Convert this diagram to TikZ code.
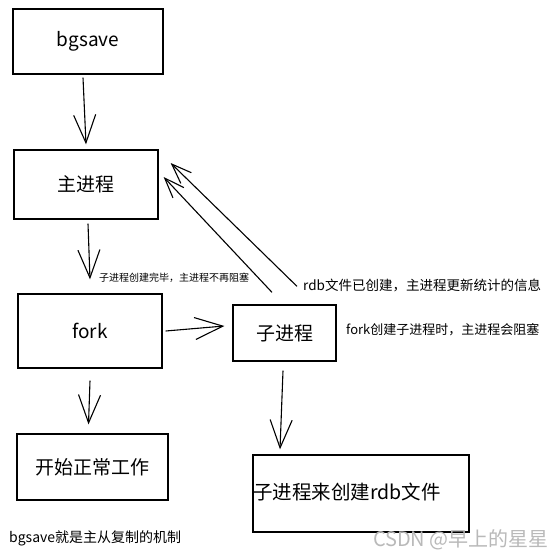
\documentclass[tikz,border=0pt]{standalone}
\usepackage{fontspec}
\setmainfont{Noto Sans CJK SC}
\usetikzlibrary{arrows.meta}
\begin{document}
\begin{tikzpicture}[x=1pt,y=-1pt,
  box/.style={draw=black, line width=1.3pt, inner sep=0pt, font=\fontsize{19}{22}\selectfont},
  arr/.style={draw=black, line width=1.1pt, -{Straight Barb[length=28pt,width=22pt,line width=1.1pt]}},
  arrs/.style={draw=black, line width=1.1pt, -{Straight Barb[length=20pt,width=15pt,line width=1.1pt]}},
  lbl/.style={inner sep=0pt, anchor=west}]
\useasboundingbox (0,0) rectangle (558,559);
\fill[white] (0,0) rectangle (558,559);
% boxes
\node[box, minimum width=150pt, minimum height=65pt] (bg) at (88,41.5) {bgsave};
\node[box, minimum width=144pt, minimum height=69pt] (main) at (86,184.5) {主进程};
\node[box, minimum width=144pt, minimum height=74pt] (fork) at (90,331) {fork};
\node[box, minimum width=103pt, minimum height=56pt] (kid) at (284.5,333) {子进程};
\node[box, minimum width=151pt, minimum height=66pt] (start) at (92.5,467) {开始正常工作};
\node[box, minimum width=216pt, minimum height=77pt] (rdb) at (361,493.5) {};
\node[lbl, font=\fontsize{19.5}{22}\selectfont] (rdbt) at (253,492) {子进程来创建rdb文件};
% arrows
\draw[arr] ([xshift=-5pt,yshift=-3pt]bg.south) -- ([yshift=5pt]main.north);
\draw[arr] ([xshift=2pt,yshift=-4pt]main.south) -- ([yshift=14pt]fork.north);
\draw[arr] ([xshift=3pt]fork.east) -- ([xshift=-8pt,yshift=7pt]kid.west);
\draw[arr] ([yshift=-12pt]fork.south) -- ([xshift=-4pt,yshift=9pt]start.north);
\draw[arr] ([xshift=-1.5pt,yshift=-9pt]kid.south) -- ([xshift=-81pt,yshift=5pt]rdb.north);
\draw[arrs] ([xshift=-12.5pt,yshift=12pt]kid.north) -- ([xshift=5pt,yshift=7.5pt]main.east);
\draw[arrs] ([xshift=12.5pt,yshift=18pt]kid.north) -- ([xshift=12pt,yshift=21.5pt]main.east);
% labels
\node[lbl, font=\fontsize{10}{12}\selectfont] (l1) at (99,278) {子进程创建完毕，主进程不再阻塞};
\node[lbl, font=\fontsize{13.5}{16}\selectfont] (l2) at (303,285) {rdb文件已创建，主进程更新统计的信息};
\node[lbl, font=\fontsize{13}{15}\selectfont] (l3) at (346,330) {fork创建子进程时，主进程会阻塞};
\node[lbl, font=\fontsize{14}{16}\selectfont] (l4) at (9,538) {bgsave就是主从复制的机制};
\node[inner sep=0pt, anchor=east, text=gray!55, font=\fontsize{20}{23}\selectfont] (wm) at (549,540) {CSDN @早上的星星};
\end{tikzpicture}
\end{document}
